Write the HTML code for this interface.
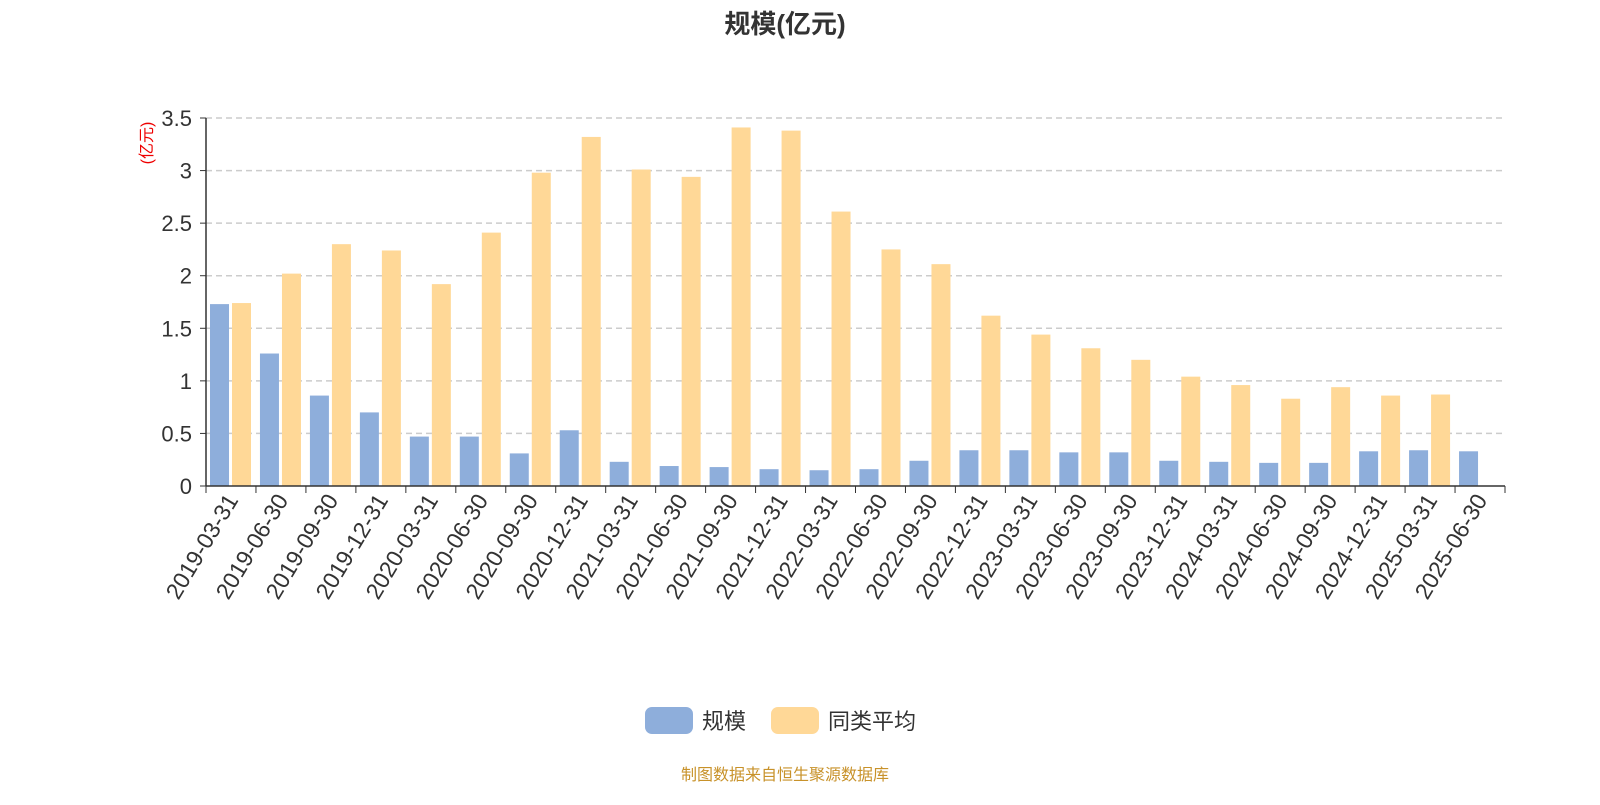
<!DOCTYPE html>
<html><head><meta charset="utf-8"><style>
body{margin:0;background:#fff;font-family:"Liberation Sans","Noto Sans CJK SC",sans-serif;}
svg text{font-family:"Liberation Sans","Noto Sans CJK SC",sans-serif;}
</style></head><body>
<svg id="chart" width="1600" height="800" xmlns="http://www.w3.org/2000/svg">
<text x="785" y="33" text-anchor="middle" font-size="26" font-weight="bold" fill="#333">规模(亿元)</text>
<text transform="translate(152,143) rotate(-90)" text-anchor="middle" font-size="16" fill="#e00">(亿元)</text>
<g id="grid"></g>
<g id="bars"></g>
<g id="axes"></g>
<g>
<rect x="645" y="707" width="48" height="27" rx="7" fill="#8eaedb"/>
<text x="702" y="729" font-size="22" fill="#333">规模</text>
<rect x="771" y="707" width="48" height="27" rx="7" fill="#ffd897"/>
<text x="828" y="729" font-size="22" fill="#333">同类平均</text>
</g>
<text x="785" y="780" text-anchor="middle" font-size="16" fill="#c8922a">制图数据来自恒生聚源数据库</text>
</svg>
<script>
const categories=["2019-03-31","2019-06-30","2019-09-30","2019-12-31","2020-03-31","2020-06-30","2020-09-30","2020-12-31","2021-03-31","2021-06-30","2021-09-30","2021-12-31","2022-03-31","2022-06-30","2022-09-30","2022-12-31","2023-03-31","2023-06-30","2023-09-30","2023-12-31","2024-03-31","2024-06-30","2024-09-30","2024-12-31","2025-03-31","2025-06-30"];
const scaleValues=[1.73,1.26,0.86,0.70,0.47,0.47,0.31,0.53,0.23,0.19,0.18,0.16,0.15,0.16,0.24,0.34,0.34,0.32,0.32,0.24,0.23,0.22,0.22,0.33,0.34,0.33];
const avgValues=[1.74,2.02,2.30,2.24,1.92,2.41,2.98,3.32,3.01,2.94,3.41,3.38,2.61,2.25,2.11,1.62,1.44,1.31,1.20,1.04,0.96,0.83,0.94,0.86,0.87,null];
const yTicks=[0,0.5,1,1.5,2,2.5,3,3.5];
const yTickLabels=["0","0.5","1","1.5","2","2.5","3","3.5"];
const NS="http://www.w3.org/2000/svg";
const X0=206,X1=1505,Y0=486,Y1=118,YMAX=3.5;
const bw=(X1-X0)/categories.length;
const y=v=>Y0-(v/YMAX)*(Y0-Y1);
const xb=i=>X0+i*bw;
function mk(tag,attrs,parent){const e=document.createElementNS(NS,tag);for(const k in attrs)e.setAttribute(k,attrs[k]);parent.appendChild(e);return e;}
const grid=document.getElementById('grid'),bars=document.getElementById('bars'),axes=document.getElementById('axes');
yTicks.forEach((t,i)=>{
 if(t>0){const l=mk('line',{x1:X0,x2:X1,y1:y(t),y2:y(t),stroke:'#ccc','stroke-dasharray':'6,4','stroke-width':1.5},grid);
 
 }
 const tk=mk('line',{x1:X0-6,x2:X0,y1:y(t),y2:y(t),stroke:'#333'},axes);
 
 
 const tx=mk('text',{x:X0-14,y:y(t)+8,'text-anchor':'end','font-size':22,fill:'#333'},axes);
 tx.textContent=yTickLabels[i];
 
 
});
categories.forEach((c,i)=>{
 const x=xb(i);
 if(scaleValues[i]!=null){const r=mk('rect',{x:x+4,y:y(scaleValues[i]),width:19,height:Y0-y(scaleValues[i]),fill:'#8eaedb'},bars);
 
 }
 if(avgValues[i]!=null){const r=mk('rect',{x:x+26,y:y(avgValues[i]),width:19,height:Y0-y(avgValues[i]),fill:'#ffd897'},bars);
 
 }
 const tk=mk('line',{x1:x,x2:x,y1:Y0,y2:Y0+7,stroke:'#333'},axes);
 
 
 const cx=x+bw/2;
 const t=mk('text',{transform:`translate(${cx+8},${Y0+14}) rotate(-59)`,'text-anchor':'end','font-size':23,fill:'#333'},axes);
 t.textContent=c;
 
 
});
const lt=mk('line',{x1:X1,x2:X1,y1:Y0,y2:Y0+7,stroke:'#333'},axes);


const ya=mk('line',{x1:X0,x2:X0,y1:Y1,y2:Y0,stroke:'#333','stroke-width':1.5},axes);


const xa=mk('line',{x1:X0,x2:X1,y1:Y0,y2:Y0,stroke:'#333','stroke-width':1.5},axes);


</script>
</body></html>
